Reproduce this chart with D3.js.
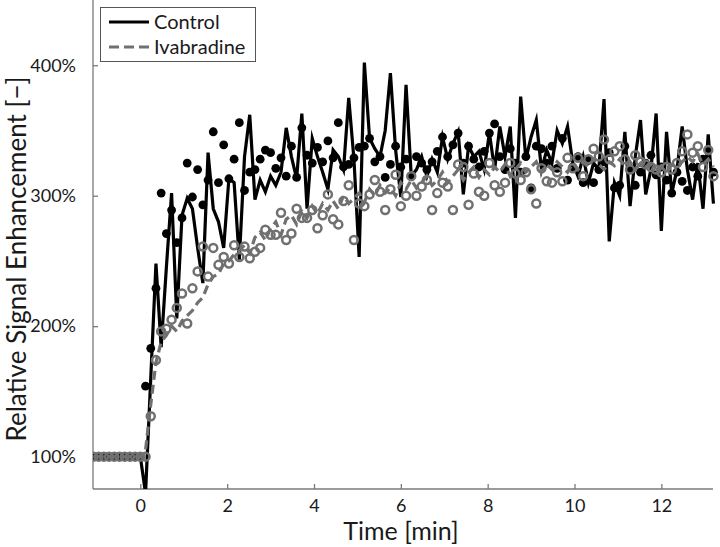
<!DOCTYPE html>
<html>
<head>
<meta charset="utf-8">
<script src="https://cdn.jsdelivr.net/npm/d3@7/dist/d3.min.js"></script>
<style>
  html, body { margin: 0; padding: 0; background: #fff; }
  svg { display: block; font-family: Lato, "Open Sans", sans-serif; }
</style>
</head>
<body>
<svg id="chart" width="720" height="547"></svg>
<script>
// ---- data (time in minutes, values in %) ----
const time = [-1.08,-0.96,-0.84,-0.72,-0.60,-0.48,-0.36,-0.24,-0.12,0.00,
  0.12,0.24,0.36,0.48,0.60,0.72,0.84,0.96,1.08,1.20,
  1.32,1.44,1.56,1.68,1.80,1.92,2.04,2.16,2.28,2.40,
  2.52,2.64,2.76,2.88,3.00,3.12,3.24,3.36,3.48,3.60,
  3.72,3.84,3.96,4.08,4.20,4.32,4.44,4.56,4.68,4.80,
  4.92,5.04,5.16,5.28,5.40,5.52,5.64,5.76,5.88,6.00,
  6.12,6.24,6.36,6.48,6.60,6.72,6.84,6.96,7.08,7.20,
  7.32,7.44,7.56,7.68,7.80,7.92,8.04,8.16,8.28,8.40,
  8.52,8.64,8.76,8.88,9.00,9.12,9.24,9.36,9.48,9.60,
  9.72,9.84,9.96,10.08,10.20,10.32,10.44,10.56,10.68,10.80,
  10.92,11.04,11.16,11.28,11.40,11.52,11.64,11.76,11.88,12.00,
  12.12,12.24,12.36,12.48,12.60,12.72,12.84,12.96,13.08,13.20];

const controlLine = [100,100,100,100,100,100,100,100,100,100,
  72,160,248,184,245,302,206,285,298,290,
  260,233,333,290,280,260,313,310,251,330,
  362,297,312,303,315,308,318,352,330,313,
  363,290,344,330,318,305,335,330,320,375,
  328,253,402,344,336,330,350,394,335,299,
  385,315,320,330,315,328,318,345,328,340,
  349,301,338,330,334,320,348,320,353,330,
  353,283,376,328,345,358,320,335,325,350,
  340,353,325,315,330,310,325,320,374,265,
  310,300,349,292,330,358,301,320,363,273,
  349,302,320,353,320,297,325,290,347,294];

const controlPoints = [100,100,100,100,100,100,100,100,100,100,
  154,183,229,302,271,289,264,283,325,299,
  320,293,312,349,310,339,313,328,356,304,
  318,320,328,335,333,321,329,315,338,314,
  352,331,325,337,326,342,329,356,322,324,
  329,337,338,344,326,330,314,324,338,322,
  328,315,330,325,320,326,334,345,330,339,
  348,325,338,328,322,334,348,355,330,320,
  336,325,318,330,306,338,336,325,338,321,
  344,312,322,330,310,327,310,320,326,333,
  306,308,338,320,308,318,325,331,316,322,
  312,302,318,311,304,322,315,328,335,318];

const ivabradineLine = [100,100,100,100,100,100,100,100,100,100,
  105,140,172,188,193,200,196,204,208,212,
  218,222,232,238,240,248,250,255,258,262,
  256,268,272,266,275,280,270,282,285,278,
  288,283,292,286,294,289,296,290,300,294,
  298,302,295,305,300,308,302,306,300,310,
  305,312,306,310,315,308,312,318,310,315,
  320,312,318,322,314,320,316,322,318,324,
  315,320,325,318,322,326,318,324,320,326,
  322,318,325,320,326,322,328,324,320,326,
  323,328,322,326,320,325,322,324,320,323,
  321,324,322,326,330,326,332,324,328,322];

const ivabradinePoints = [100,100,100,100,100,100,100,100,100,100,
  100,131,174,196,198,205,214,225,202,229,
  242,261,238,260,247,253,248,262,253,261,
  252,257,260,274,270,270,287,266,271,290,
  283,283,289,275,285,301,282,278,296,308,
  266,294,292,301,312,303,289,305,316,292,
  300,315,300,307,312,289,302,310,307,289,
  324,322,293,317,303,300,325,308,303,310,
  325,317,312,318,305,294,321,311,310,318,
  311,329,321,329,315,328,336,330,343,328,
  334,338,328,320,331,326,324,322,320,318,
  322,320,325,334,347,333,338,322,335,315];

const xTicks = [0, 2, 4, 6, 8, 10, 12];
const yTicks = [100, 200, 300, 400];
const legendLabels = ["Control", "Ivabradine"];

// ---- layout ----
const svg = d3.select("#chart");
const pLeft = 93, pRight = 713, pTop = 0, pBottom = 489;
const x = d3.scaleLinear().domain([-1.09, 13.19]).range([pLeft, pRight]);
const y = d3.scaleLinear().domain([75.2, 450]).range([pBottom, pTop]);
const axisColor = "#7a7a7a";
const textColor = "#1a1a1a";
const grayColor = "#707070";

svg.append("defs").append("clipPath").attr("id", "clip")
  .append("rect").attr("x", pLeft).attr("y", pTop)
  .attr("width", pRight - pLeft + 6).attr("height", pBottom - pTop);

// axes
const xAxis = svg.append("g").attr("transform", `translate(0,${pBottom})`)
  .call(d3.axisBottom(x).tickValues(xTicks).tickSizeInner(-5).tickSizeOuter(0).tickPadding(10).tickFormat(d3.format("d")));
const yAxis = svg.append("g").attr("transform", `translate(${pLeft},0)`)
  .call(d3.axisLeft(y).tickValues(yTicks).tickSizeInner(-5).tickSizeOuter(0).tickPadding(17).tickFormat(d => d + "%"));
[xAxis, yAxis].forEach(g => {
  g.select(".domain").attr("stroke", axisColor).attr("stroke-width", 1.3);
  g.selectAll(".tick line").attr("stroke", axisColor).attr("stroke-width", 1.3);
  g.selectAll(".tick text").attr("fill", textColor).style("font-size", "18px")
    .style("font-family", "Lato, 'Open Sans', sans-serif");
});
yAxis.select(".domain").attr("d", `M0,${pBottom}V${pTop}`);
xAxis.select(".domain").attr("d", `M${pLeft},0H${pRight}`);

// axis titles
svg.append("text").attr("x", 401).attr("y", 540).attr("text-anchor", "middle")
  .attr("fill", textColor).style("font-size", "25px").text("Time [min]");
svg.append("text").attr("transform", "translate(26,259) rotate(-90)").attr("text-anchor", "middle")
  .attr("fill", textColor).style("font-size", "26px").text("Relative Signal Enhancement [\u2212]");

// data
const plot = svg.append("g").attr("clip-path", "url(#clip)");
const line = d3.line().x((d, i) => x(time[i])).y(d => y(d));

plot.append("path").datum(controlLine).attr("d", line)
  .attr("fill", "none").attr("stroke", "#000").attr("stroke-width", 3.2)
  .attr("stroke-linejoin", "miter").attr("stroke-miterlimit", 6);

plot.append("g").selectAll("circle").data(controlPoints).join("circle")
  .attr("cx", (d, i) => x(time[i])).attr("cy", d => y(d)).attr("r", 4.4)
  .attr("fill", "#000");

plot.append("path").datum(ivabradineLine).attr("d", line)
  .attr("fill", "none").attr("stroke", grayColor).attr("stroke-width", 3.2)
  .attr("stroke-dasharray", "9,5");

plot.append("g").selectAll("circle").data(ivabradinePoints).join("circle")
  .attr("cx", (d, i) => x(time[i])).attr("cy", d => y(d)).attr("r", 4)
  .attr("fill", "none").attr("stroke", grayColor).attr("stroke-width", 2.5);

// legend
const lg = svg.append("g");
lg.append("rect").attr("x", 100.5).attr("y", 7.5).attr("width", 155).attr("height", 54)
  .attr("fill", "#fff").attr("stroke", "#555").attr("stroke-width", 1);
const legendStyles = [
  { stroke: "#000", dash: null, yy: 22 },
  { stroke: grayColor, dash: "10,5", yy: 47 }
];
legendLabels.forEach((lab, i) => {
  const s = legendStyles[i];
  lg.append("line").attr("x1", 109).attr("x2", 149).attr("y1", s.yy).attr("y2", s.yy)
    .attr("stroke", s.stroke).attr("stroke-width", 3.2)
    .attr("stroke-dasharray", s.dash);
  lg.append("text").attr("x", 154).attr("y", s.yy + 7).attr("fill", textColor)
    .style("font-size", "20px").text(lab);
});
</script>
</body>
</html>
